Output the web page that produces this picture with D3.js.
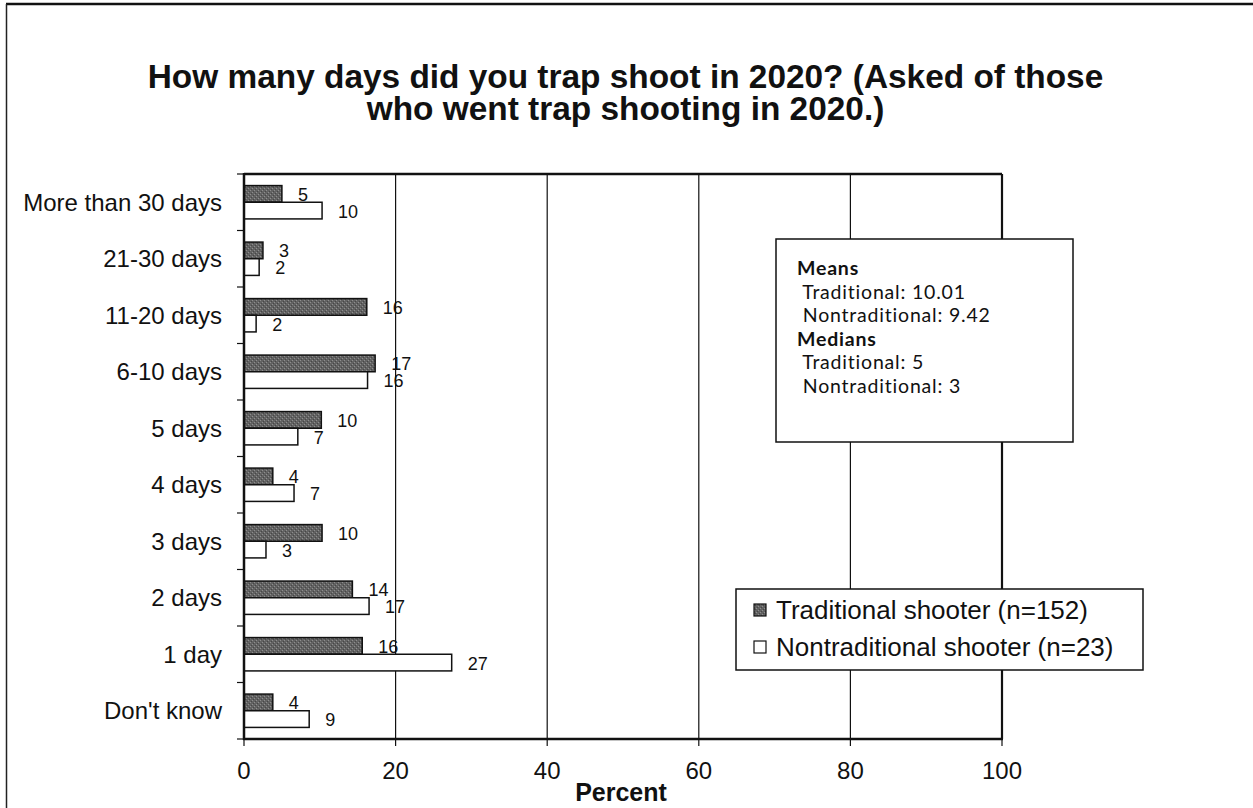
<!DOCTYPE html>
<html>
<head>
<meta charset="utf-8">
<script src="https://cdn.jsdelivr.net/npm/d3@7"></script>
<style>
  html, body { margin: 0; padding: 0; background: #fff; }
  svg { display: block; }
</style>
</head>
<body>
<svg id="chart" width="1253" height="808"></svg>
<script>
const titleLines = ["How many days did you trap shoot in 2020? (Asked of those", "who went trap shooting in 2020.)"];
const categories = ["More than 30 days", "21-30 days", "11-20 days", "6-10 days", "5 days", "4 days", "3 days", "2 days", "1 day", "Don't know"];
const traditional = [5.0, 2.5, 16.2, 17.3, 10.2, 3.8, 10.3, 14.3, 15.6, 3.8];
const nontraditional = [10.3, 2.0, 1.6, 16.3, 7.1, 6.6, 2.9, 16.5, 27.4, 8.6];
const traditionalLabels = ["5", "3", "16", "17", "10", "4", "10", "14", "16", "4"];
const nontraditionalLabels = ["10", "2", "2", "16", "7", "7", "3", "17", "27", "9"];
const xTicks = [0, 20, 40, 60, 80, 100];
const seriesNames = ["Traditional shooter (n=152)", "Nontraditional shooter (n=23)"];
const statsLines = [
  {text: "Means", bold: true},
  {text: " Traditional: 10.01", bold: false},
  {text: " Nontraditional: 9.42", bold: false},
  {text: "Medians", bold: true},
  {text: " Traditional: 5", bold: false},
  {text: " Nontraditional: 3", bold: false}
];

const svg = d3.select("#chart");
const W = 1253, H = 808;
const plot = {left: 244, right: 1002, top: 174, bottom: 739};
const AR = "Liberation Sans, Arial, sans-serif";

svg.append("rect").attr("width", W).attr("height", H).attr("fill", "#fff");

// pattern for dark bars (stippled grey)
const defs = svg.append("defs");
const pat = defs.append("pattern").attr("id", "dark").attr("width", 4).attr("height", 4)
  .attr("patternUnits", "userSpaceOnUse");
pat.append("rect").attr("width", 4).attr("height", 4).attr("fill", "#626262");
pat.append("rect").attr("x", 0).attr("y", 0).attr("width", 1).attr("height", 1).attr("fill", "#8e8e8e");
pat.append("rect").attr("x", 2).attr("y", 2).attr("width", 1).attr("height", 1).attr("fill", "#8e8e8e");
pat.append("rect").attr("x", 3).attr("y", 1).attr("width", 1).attr("height", 1).attr("fill", "#474747");
pat.append("rect").attr("x", 1).attr("y", 3).attr("width", 1).attr("height", 1).attr("fill", "#474747");

// outer frame (left and top edges visible)
svg.append("line").attr("x1", 6).attr("y1", 4).attr("x2", W).attr("y2", 4).attr("stroke", "#111").attr("stroke-width", 2.5);
svg.append("line").attr("x1", 6.5).attr("y1", 4).attr("x2", 6.5).attr("y2", H).attr("stroke", "#222").attr("stroke-width", 1.5);

// title
const title = svg.append("text").attr("x", 625).attr("text-anchor", "middle")
  .attr("font-family", AR).attr("font-weight", "bold").attr("font-size", 33.4).attr("fill", "#111");
titleLines.forEach((t, i) => {
  title.append("tspan").attr("x", 625.5).attr("y", 88 + i * 32).text(t);
});

const x = d3.scaleLinear().domain([0, 100]).range([plot.left, plot.right]);
const y = d3.scaleBand().domain(categories).range([plot.top, plot.bottom]).paddingInner(0.41).paddingOuter(0.205);
const bh = y.bandwidth() / 2;

// gridlines
svg.append("g").selectAll("line").data(xTicks.filter(d => d > 0 && d < 100)).join("line")
  .attr("x1", d => x(d)).attr("x2", d => x(d)).attr("y1", plot.top).attr("y2", plot.bottom)
  .attr("stroke", "#111").attr("stroke-width", 1.2);

// plot top & right border
svg.append("line").attr("x1", plot.left).attr("x2", plot.right).attr("y1", plot.top).attr("y2", plot.top)
  .attr("stroke", "#111").attr("stroke-width", 2.5);
svg.append("line").attr("x1", plot.right).attr("x2", plot.right).attr("y1", plot.top).attr("y2", plot.bottom)
  .attr("stroke", "#111").attr("stroke-width", 2.2);

// bars
const gb = svg.append("g");
gb.selectAll("rect.t").data(categories).join("rect").attr("class", "t")
  .attr("x", x(0)).attr("y", d => y(d)).attr("width", (d, i) => x(traditional[i]) - x(0)).attr("height", bh)
  .attr("fill", "url(#dark)").attr("stroke", "#111").attr("stroke-width", 1.5);
gb.selectAll("rect.n").data(categories).join("rect").attr("class", "n")
  .attr("x", x(0)).attr("y", d => y(d) + bh).attr("width", (d, i) => x(nontraditional[i]) - x(0)).attr("height", bh)
  .attr("fill", "#fff").attr("stroke", "#111").attr("stroke-width", 1.5);

// data labels
const gl = svg.append("g").attr("font-family", AR).attr("font-size", 18).attr("fill", "#111");
gl.selectAll("text.t").data(categories).join("text").attr("class", "t")
  .attr("x", (d, i) => x(traditional[i]) + 16).attr("y", d => y(d) + bh / 2 + 1)
  .attr("dominant-baseline", "central").text((d, i) => traditionalLabels[i]);
gl.selectAll("text.n").data(categories).join("text").attr("class", "n")
  .attr("x", (d, i) => x(nontraditional[i]) + 16).attr("y", d => y(d) + bh * 1.5 + 1)
  .attr("dominant-baseline", "central").text((d, i) => nontraditionalLabels[i]);

// y axis
const yAxis = svg.append("g").attr("transform", `translate(${plot.left},0)`);
yAxis.append("line").attr("x1", 0).attr("x2", 0).attr("y1", plot.top - 1).attr("y2", plot.bottom + 1)
  .attr("stroke", "#111").attr("stroke-width", 2.5);
const bounds = d3.range(categories.length + 1).map(i => plot.top + i * (plot.bottom - plot.top) / categories.length);
yAxis.selectAll("line.tk").data(bounds).join("line").attr("class", "tk")
  .attr("x1", -7).attr("x2", 0).attr("y1", d => d).attr("y2", d => d).attr("stroke", "#111").attr("stroke-width", 1.2);
yAxis.selectAll("text").data(categories).join("text")
  .attr("x", -22).attr("y", d => y(d) + y.bandwidth() / 2)
  .attr("text-anchor", "end").attr("dominant-baseline", "central")
  .attr("font-family", AR).attr("font-size", 24).attr("fill", "#111").text(d => d);

// x axis
const xAxis = svg.append("g").attr("transform", `translate(0,${plot.bottom})`);
xAxis.append("line").attr("x1", plot.left - 1).attr("x2", plot.right + 1).attr("y1", 0).attr("y2", 0)
  .attr("stroke", "#111").attr("stroke-width", 2.5);
xAxis.selectAll("line.tk").data(xTicks).join("line").attr("class", "tk")
  .attr("x1", d => x(d)).attr("x2", d => x(d)).attr("y1", 0).attr("y2", 7).attr("stroke", "#111").attr("stroke-width", 1.2);
xAxis.selectAll("text").data(xTicks).join("text")
  .attr("x", d => x(d)).attr("y", 40).attr("text-anchor", "middle")
  .attr("font-family", AR).attr("font-size", 24).attr("fill", "#111").text(d => d);
svg.append("text").attr("x", 621).attr("y", 801).attr("text-anchor", "middle")
  .attr("font-family", AR).attr("font-weight", "bold").attr("font-size", 25).attr("fill", "#111").text("Percent");

// stats box
svg.append("rect").attr("x", 776).attr("y", 239).attr("width", 297).attr("height", 203)
  .attr("fill", "#fff").attr("stroke", "#111").attr("stroke-width", 1.5);
const sg = svg.append("g").attr("font-family", "Lato, 'Open Sans', sans-serif").attr("font-size", 19.5)
  .attr("fill", "#111").attr("letter-spacing", 0.8);
sg.selectAll("text").data(statsLines).join("text")
  .attr("x", 797).attr("y", (d, i) => 275 + i * 23.6)
  .attr("font-weight", d => d.bold ? "bold" : "normal")
  .style("white-space", "pre").text(d => d.text);

// legend
const lg = svg.append("g");
lg.append("rect").attr("x", 736).attr("y", 589).attr("width", 407).attr("height", 81)
  .attr("fill", "#fff").attr("stroke", "#111").attr("stroke-width", 1.5);
const fills = ["url(#dark)", "#fff"];
seriesNames.forEach((s, i) => {
  const cy = 610 + i * 37;
  lg.append("rect").attr("x", 754).attr("y", cy - 6).attr("width", 12).attr("height", 12)
    .attr("fill", fills[i]).attr("stroke", "#111").attr("stroke-width", 1.2);
  lg.append("text").attr("x", 776).attr("y", cy).attr("dominant-baseline", "central")
    .attr("font-family", AR).attr("font-size", 26).attr("fill", "#111").text(s);
});
</script>
</body>
</html>
